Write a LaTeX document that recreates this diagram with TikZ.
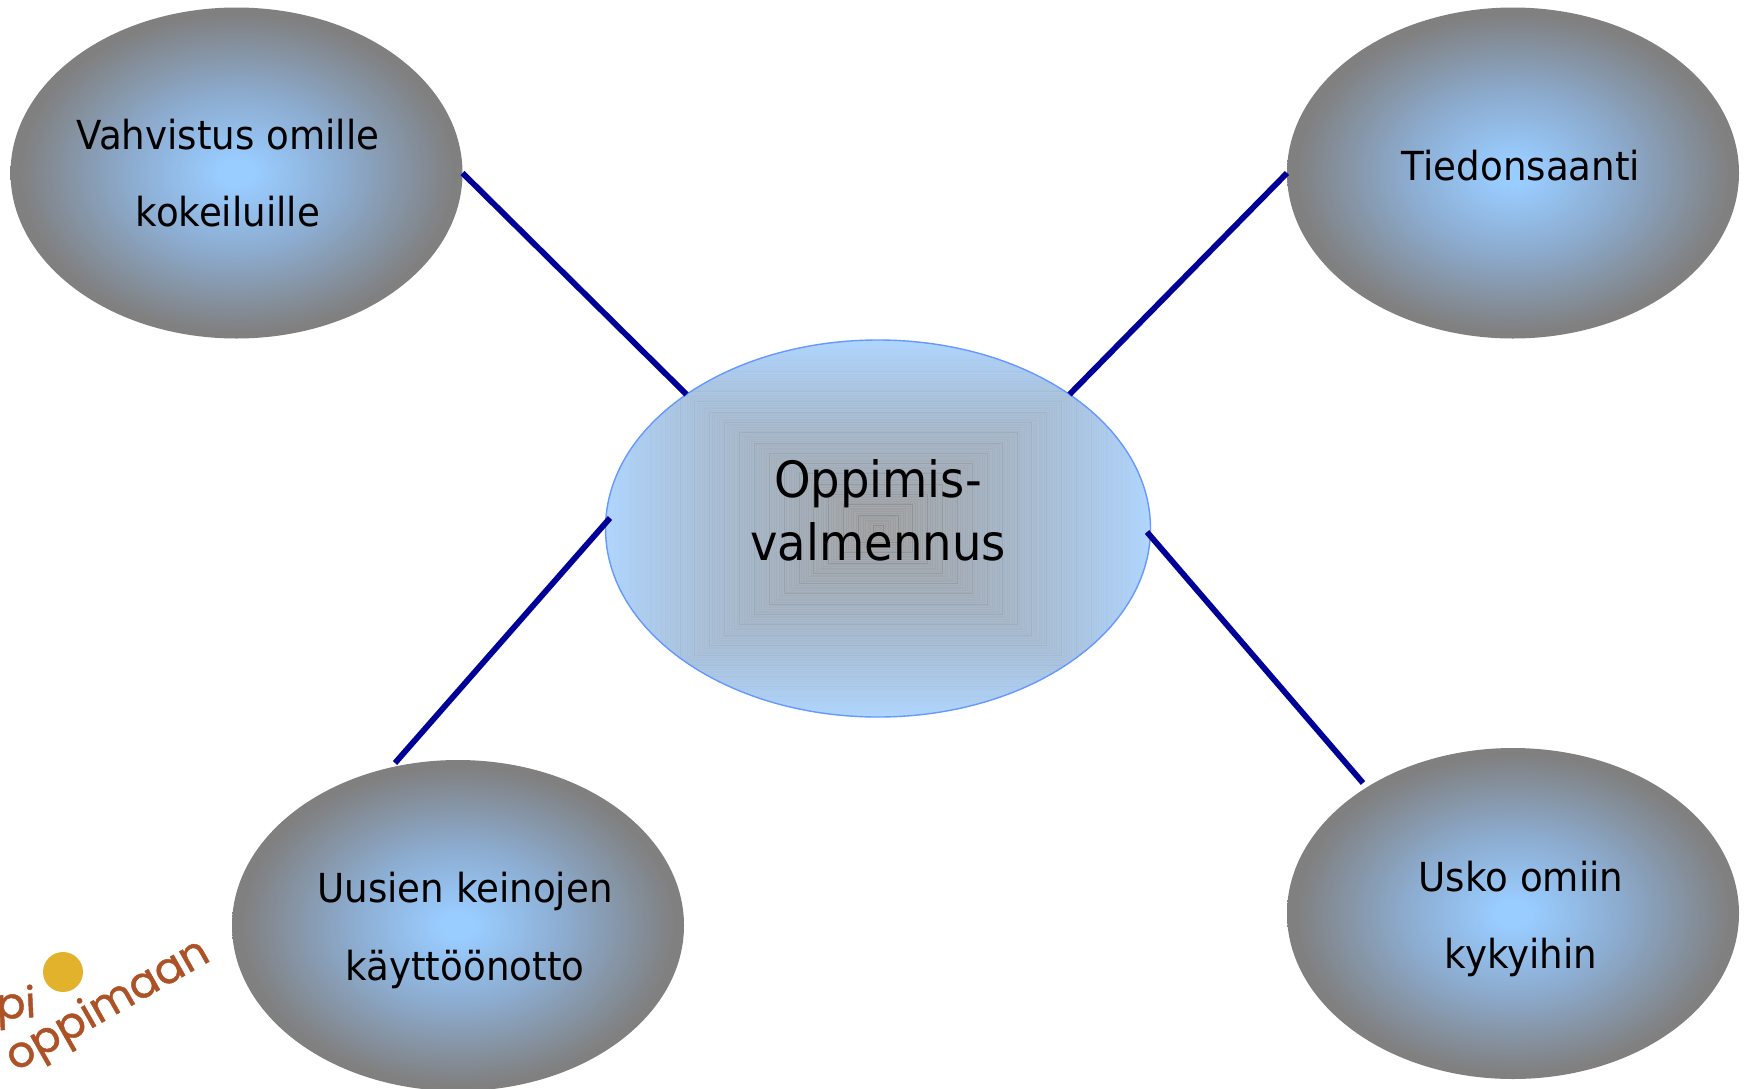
\documentclass[tikz,border=0pt]{standalone}
\usepackage{fontspec}
\setmainfont[FakeStretch=0.93]{DejaVu Sans}
\newfontfamily\logofont[FakeBold=1.1]{Poppins}
\usetikzlibrary{shapes.geometric}
\definecolor{glowblue}{HTML}{99CCFF}
\definecolor{glowmid}{HTML}{8CABCE}
\definecolor{glowgray}{HTML}{808080}
\definecolor{padblue}{HTML}{B0D6FF}
\definecolor{padgray}{HTML}{A3A3A3}
\definecolor{linkblue}{HTML}{000099}
\definecolor{rimblue}{HTML}{6699FF}
\definecolor{logobrown}{HTML}{AD5227}
\definecolor{logogold}{HTML}{E3B22C}
\pgfdeclareradialshading{glow}{\pgfpoint{0bp}{0bp}}{color(0bp)=(glowblue); color(2bp)=(glowblue); color(12bp)=(glowmid); color(24bp)=(glowgray); color(50bp)=(glowgray)}
\tikzset{
  bubble/.style={ellipse,minimum width=226pt,minimum height=165.5pt,inner sep=0pt,outer sep=0pt,shading=glow},
  link/.style={draw=linkblue,line width=2.9pt},
  sidetext/.style={anchor=base,font=\fontsize{20}{24}\selectfont,text=black,inner sep=0pt},
  hubtext/.style={anchor=base,font=\fontsize{25}{30}\selectfont,text=black,inner sep=0pt},
  logotext/.style={font=\logofont\fontsize{21.5}{26}\selectfont,text=logobrown,inner sep=0pt}
}
\begin{document}
\begin{tikzpicture}[x=0.5pt,y=-0.5pt]
\useasboundingbox (0,0) rectangle (1746,1088);
\node[bubble] (tl) at (236.5,173) {};
\node[bubble] (tr) at (1513,173) {};
\node[bubble] (bl) at (458,925.5) {};
\node[bubble] (br) at (1513,913.5) {};
\node[ellipse,minimum width=272.5pt,minimum height=188.5pt,inner sep=0pt,outer sep=0pt,draw=rimblue,line width=0.7pt,
  path picture={
    \begin{scope}[shift={(path picture bounding box.center)}]
    \foreach \i in {0,...,109}{
      \pgfmathtruncatemacro\p{100*(\i/109)^0.85}
      \pgfmathsetmacro\w{272.5*(1-\i/110)}
      \pgfmathsetmacro\h{188.5*(1-\i/110)}
      \pgfmathtruncatemacro\q{mod(\i,6)==0 ? 14 : 5}
      \fill[padgray!\p!padblue,draw=black!\q!padgray!\p!padblue,line width=0.2pt] (-\w,-\h) rectangle (\w,\h);
    }
    \end{scope}
  }] (hub) at (878,528.5) {};
\coordinate (blend) at (395,763);
\coordinate (brend) at (1363,783);
\coordinate (hubbl) at (610,518);
\coordinate (hubbr) at (1147,532);
\draw[link] (tl.east) -- (hub.145);
\draw[link] (tr.west) -- (hub.35);
\draw[link] (blend) -- (hubbl);
\draw[link] (hubbr) -- (brend);
\node[sidetext] (t1) at (228,149) {Vahvistus omille};
\node[sidetext] (t2) at (228,226) {kokeiluille};
\node[sidetext] (t3) at (1521,180) {Tiedonsaanti};
\node[sidetext] (t4) at (465,902) {Uusien keinojen};
\node[sidetext] (t5) at (465,980) {käyttöönotto};
\node[sidetext] (t6) at (1521,891) {Usko omiin};
\node[sidetext] (t7) at (1521,968) {kykyihin};
\node[hubtext] (h1) at (878,497) {Oppimis-};
\node[hubtext] (h2) at (878,560) {valmennus};
\node[circle,fill=logogold,minimum size=20pt,inner sep=0pt] (dot) at (63,972) {};
\node[logotext,anchor=base east,rotate=3] (lg1) at (37,1017) {pi};
\node[logotext,anchor=base west,rotate=29.6] (lg2) at (15,1072) {oppimaan};
\end{tikzpicture}
\end{document}
